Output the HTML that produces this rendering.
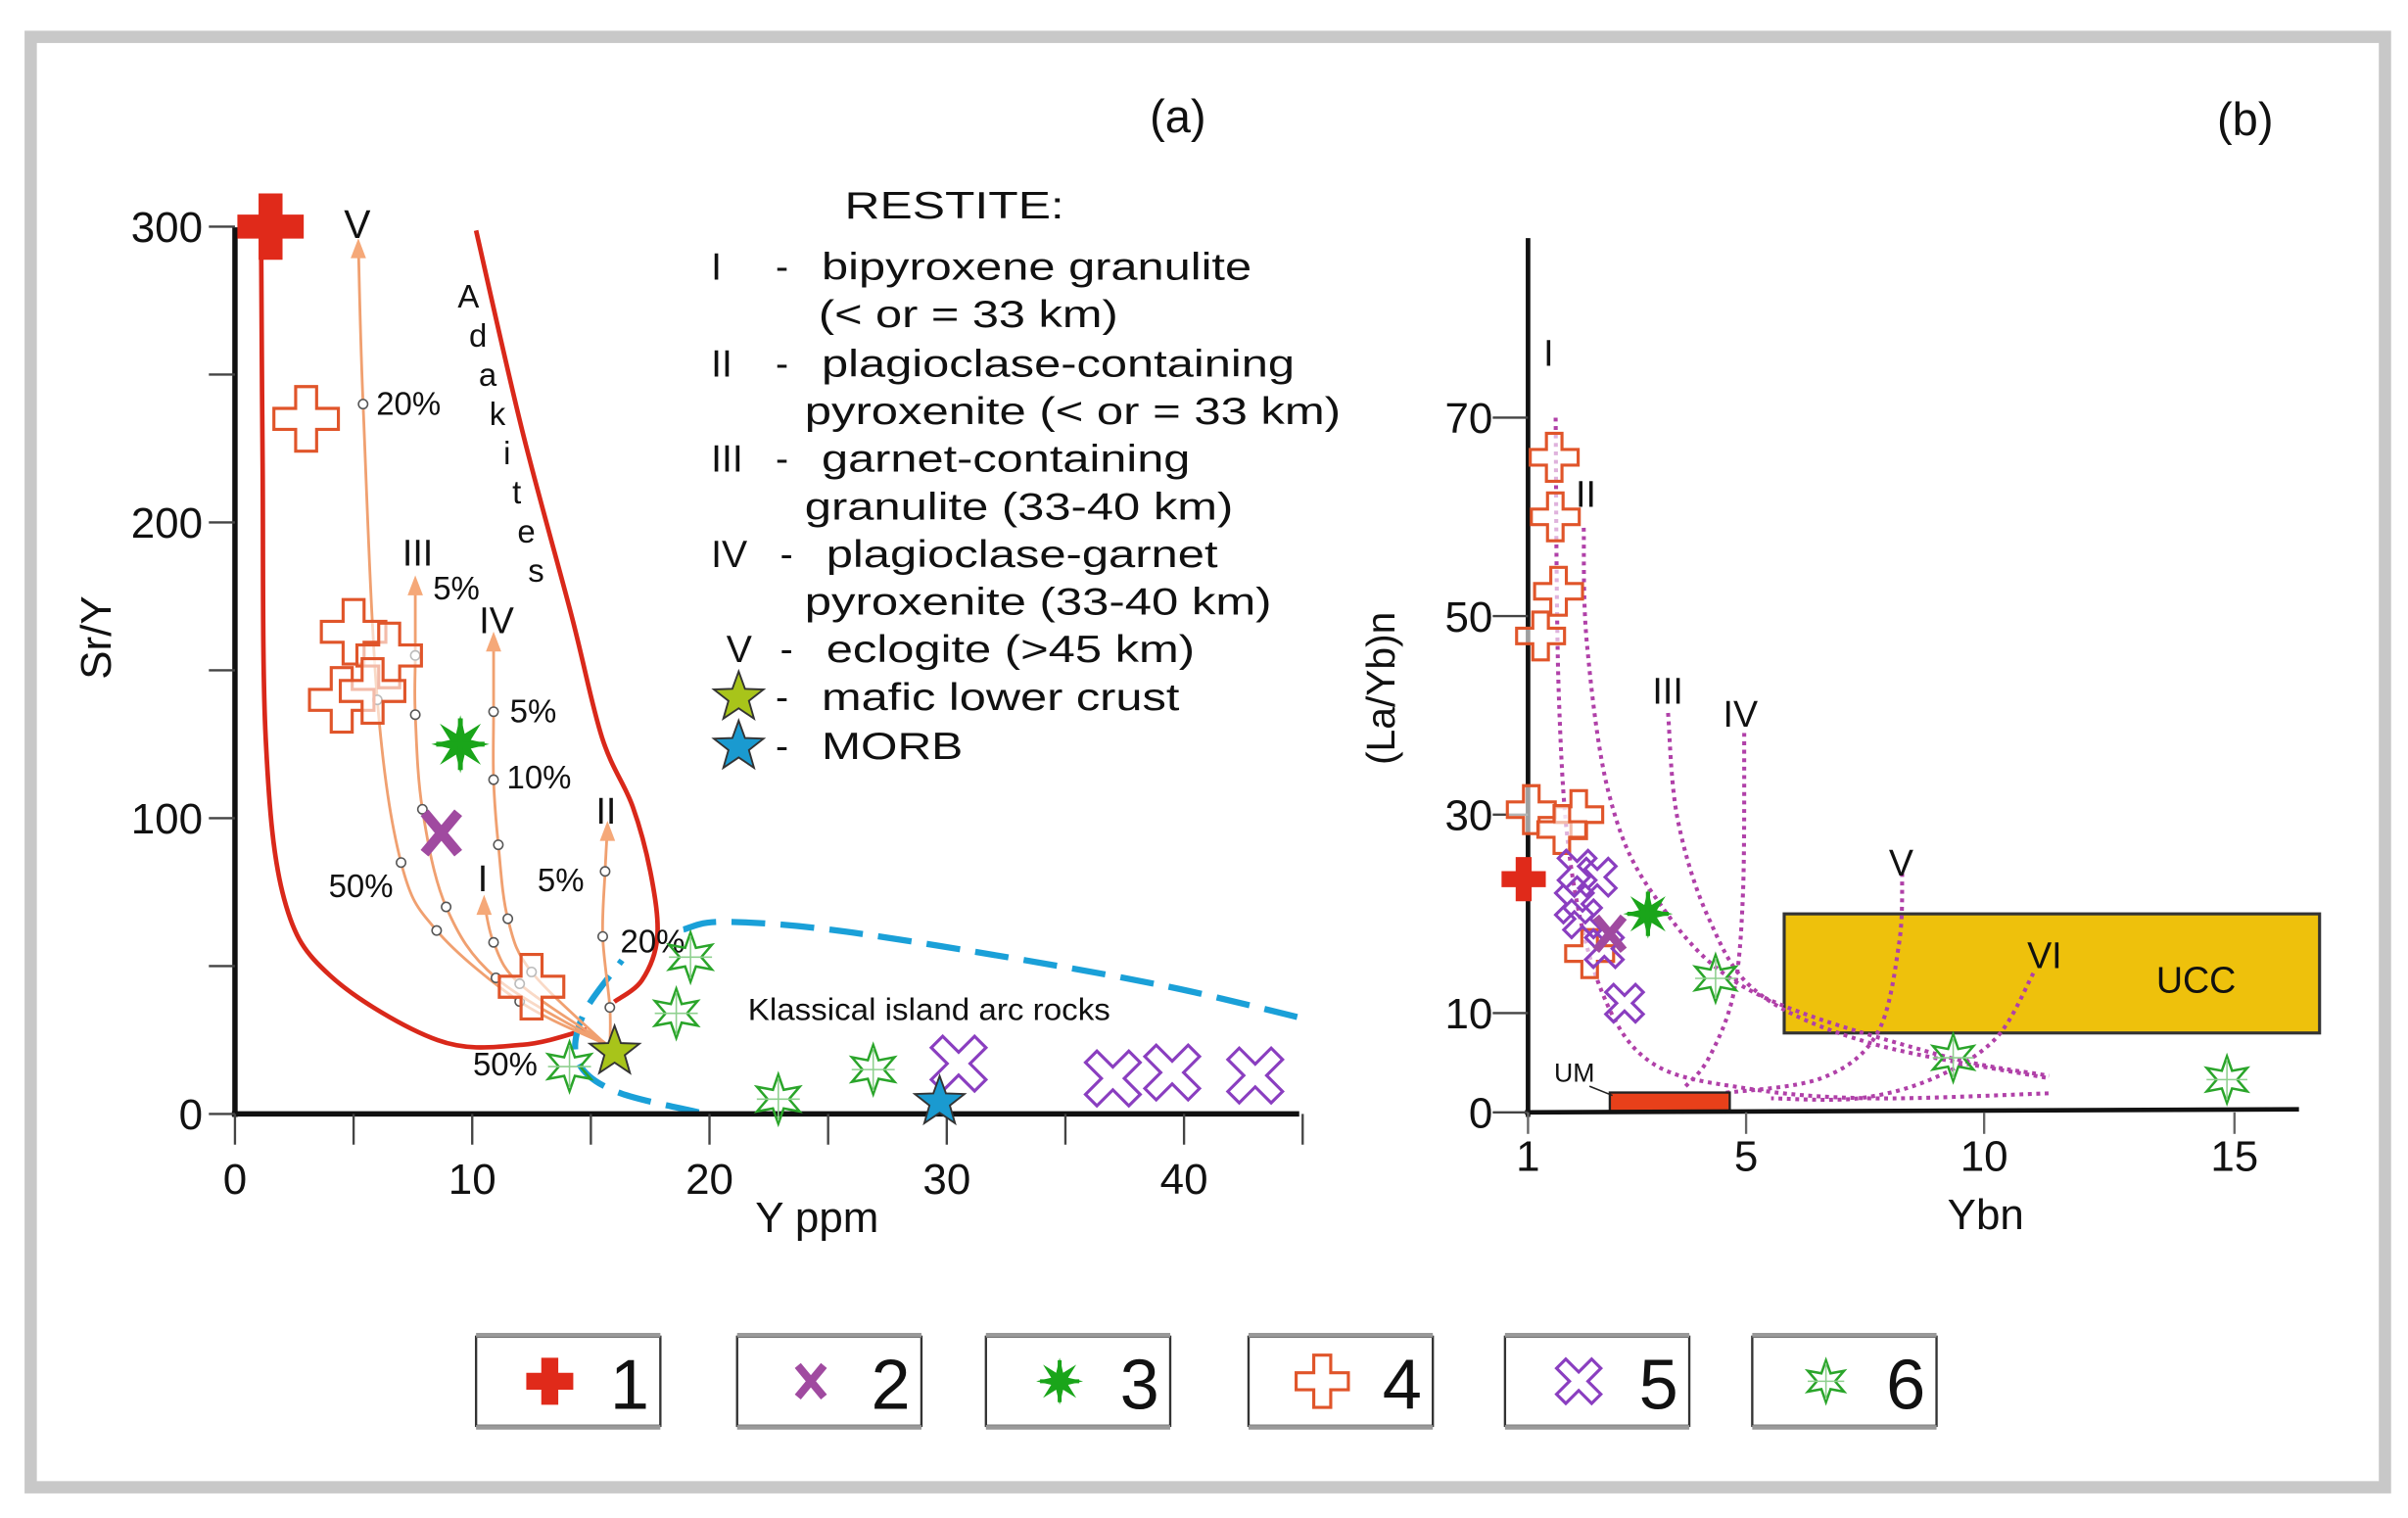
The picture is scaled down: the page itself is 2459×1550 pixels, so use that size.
<!DOCTYPE html>
<html><head><meta charset="utf-8">
<style>
html,body{margin:0;padding:0;background:#fff;}
svg{display:block;}
text{font-family:"Liberation Sans",Arial,sans-serif;fill:#111;}
</style></head>
<body>
<svg id="fig" width="2459" height="1550" viewBox="0 0 1568 988" preserveAspectRatio="none" xmlns="http://www.w3.org/2000/svg">
<rect x="0" y="0" width="1568" height="988" fill="#fff"/>
<rect x="20" y="24" width="1533" height="944" fill="none" stroke="#c8c8c8" stroke-width="8"/>
<g id="pa"></g>
<g id="pb"></g>
<g id="leg"></g>
</svg>
<script>
// ---------- Panel (a) data: Sr/Y vs Y ppm ----------
const aXTicks = [0,10,20,30,40];
const aYTicks = [0,100,200,300];
const aType1 = [[1.5,300]];
const aType2 = [[8.7,95]];
const aType3 = [[9.5,125]];
const aType4 = [[3,235],[5,163],[6.5,155],[4.5,140],[5.8,143],[12.5,43]];
const aType5 = [[30.5,17],[37,12],[39.5,14],[43,13]];
const aType6 = [[19.2,53],[18.6,34],[14.1,16],[22.9,5],[26.9,15]];
const aMafic = [[16,21]];
const aMorb = [[29.7,4]];
const curveV = [[15.5,24],[12,38],[8.5,62],[7,85],[6,140],[5.4,240],[5.2,294]];
const curveIII = [[15.5,24],[11,46],[8.9,70],[7.9,103],[7.6,135],[7.6,155],[7.6,180]];
const curveIV = [[15.7,23],[12.5,48],[11.5,66],[11.1,91],[10.9,113],[10.9,136],[10.9,161]];
const curveI = [[15.6,24],[12,44],[10.9,58],[10.5,72]];
const curveII = [[15.8,22],[15.8,36],[15.5,60],[15.6,82],[15.7,97]];

// ---------- Panel (b) data: (La/Yb)n vs Ybn ----------
const bXTicks = [1,5,10,15];
const bYTicks = [0,10,30,50,70];
const bType1 = [[0.92,23.5]];
const bType2 = [[2.5,18]];
const bType3 = [[3.2,20]];
const bType4 = [[1.48,66],[1.5,60],[1.56,52.5],[1.23,48],[1.06,30.5],[1.93,30],[1.62,28.5],[2.13,16]];
const bType5 = [[1.9,24.5],[2.27,23.7],[1.85,21],[2.0,19.5],[2.4,16.5],[2.77,11]];
const bType6 = [[4.44,13.5],[9.35,5.5],[14.85,3.3]];
const bUCC = [5.8,16.7,8,20];   // xmin,xmax,ymin,ymax
const bUM = [2.5,4.7,0,2];

const NS="http://www.w3.org/2000/svg";
function el(tag,attrs,parent){const e=document.createElementNS(NS,tag);for(const k in attrs)e.setAttribute(k,attrs[k]);parent.appendChild(e);return e;}
function txt(s,x,y,size,parent,extra){const t=el('text',Object.assign({x:x,y:y,'font-size':size},extra||{}),parent);t.textContent=s;return t;}

// axis functions
const ax=v=>153+v*15.45, ay=v=>725-v*1.925;
function bx(v){ if(v<=5) return 995+(v-1)*35.5; if(v<=10) return 1137+(v-5)*31; return 1292+(v-10)*32.6; }
const by=v=>724-v*6.46;

// symbols
function crossPts(cx,cy,L,w){return [[-w,-L],[w,-L],[w,-w],[L,-w],[L,w],[w,w],[w,L],[-w,L],[-w,w],[-L,w],[-L,-w],[-w,-w]].map(p=>(cx+p[0])+','+(cy+p[1])).join(' ');}
function xPts(cx,cy,L,w){return [[-w,-L],[w,-L],[w,-w],[L,-w],[L,w],[w,w],[w,L],[-w,L],[-w,w],[-L,w],[-L,-w],[-w,-w]].map(p=>{const a=Math.PI/4;const x=p[0]*Math.cos(a)-p[1]*Math.sin(a),y=p[0]*Math.sin(a)+p[1]*Math.cos(a);return (cx+x)+','+(cy+y);}).join(' ');}
function starPts(cx,cy,R,r,n){let s=[];for(let i=0;i<2*n;i++){const a=-Math.PI/2+i*Math.PI/n;const rr=i%2?r:R;s.push((cx+rr*Math.cos(a))+','+(cy+rr*Math.sin(a)));}return s.join(' ');}
function sym(type,cx,cy,sc,parent){
  let e;
  if(type===1){e=el('polygon',{points:crossPts(cx,cy,18*sc,6.5*sc),fill:'#e02a1a'},parent);}
  else if(type===2){e=el('g',{},parent);el('path',{d:`M${cx-10*sc},${cy-12*sc}L${cx+10*sc},${cy+12*sc}M${cx+10*sc},${cy-12*sc}L${cx-10*sc},${cy+12*sc}`,stroke:'#a04aa0','stroke-width':6*sc},e);}
  else if(type===3){e=el('g',{},parent);el('polygon',{points:starPts(cx,cy,18*sc,7*sc,8),fill:'#1aa51a'},e);el('path',{d:`M${cx-15*sc},${cy}L${cx+15*sc},${cy}M${cx},${cy-16*sc}L${cx},${cy+16*sc}`,stroke:'#1aa51a','stroke-width':3*sc},e);}
  else if(type===4){e=el('polygon',{points:crossPts(cx,cy,20*sc,6.5*sc),fill:'#fff','fill-opacity':0.6,stroke:'#e0552a','stroke-width':2},parent);}
  else if(type===5){e=el('polygon',{points:xPts(cx,cy,19*sc,5*sc),fill:'none',stroke:'#8a3ec0','stroke-width':2},parent);}
  else if(type===6){e=el('g',{},parent);el('polygon',{points:starPts(cx,cy,16*sc,7*sc,6),fill:'none',stroke:'#2aa52a','stroke-width':1.6},e);el('path',{d:`M${cx-14*sc},${cy}L${cx+14*sc},${cy}M${cx},${cy-14*sc}L${cx},${cy+14*sc}`,stroke:'#8fd08f','stroke-width':1},e);}
  else if(type==='mafic'){e=el('polygon',{points:starPts(cx,cy,17,7,5),fill:'#a8c41a',stroke:'#333','stroke-width':1.2},parent);}
  else if(type==='morb'){e=el('polygon',{points:starPts(cx,cy,17,7,5),fill:'#1a9ad0',stroke:'#333','stroke-width':1.2},parent);}
  return e;
}
function smooth(pts){let d='M'+pts[0][0]+','+pts[0][1];for(let i=1;i<pts.length;i++){const p0=pts[Math.max(0,i-2)],p1=pts[i-1],p2=pts[i],p3=pts[Math.min(pts.length-1,i+1)];const c1=[p1[0]+(p2[0]-p0[0])/6,p1[1]+(p2[1]-p0[1])/6],c2=[p2[0]-(p3[0]-p1[0])/6,p2[1]-(p3[1]-p1[1])/6];d+=`C${c1[0]},${c1[1]} ${c2[0]},${c2[1]} ${p2[0]},${p2[1]}`;}return d;}

// ================= PANEL A =================
const pa=document.getElementById('pa');
const adak=el('path',{d:smooth([[310,150],[340,280],[372,400],[392,480],[412,525],[424,570],[428,610],[418,638],[400,652]])+' '+smooth([[170,150],[171,300],[173,480],[185,585],[215,635],[285,677],[340,680],[382,670]]),fill:'none',stroke:'#d9281a','stroke-width':3},pa);


const arc=el('path',{d:smooth([[455,724],[400,710],[376,690],[380,660],[405,625]])+' '+smooth([[445,605],[470,600],[540,605],[650,622],[760,642],[845,662]]),fill:'none',stroke:'#1aa0d8','stroke-width':4,'stroke-dasharray':'22 10'},pa);


el('line',{x1:153,y1:148,x2:153,y2:727,stroke:'#111','stroke-width':3.5},pa);
el('line',{x1:151,y1:725,x2:846,y2:725,stroke:'#111','stroke-width':3.5},pa);
for(let v=0;v<=45;v+=5){el('line',{x1:ax(v),y1:725,x2:ax(v),y2:745,stroke:'#444','stroke-width':1.5},pa);}
for(let v=0;v<=300;v+=50){el('line',{x1:136,y1:ay(v),x2:153,y2:ay(v),stroke:'#444','stroke-width':1.5},pa);}
aXTicks.forEach(v=>{const t=txt(String(v),ax(v),777,28,pa,{'text-anchor':'middle'});});
aYTicks.forEach(v=>{const t=txt(String(v),132,ay(v)+10,28,pa,{'text-anchor':'end'});});
const ya=txt('Sr/Y',72,415,28,pa,{'text-anchor':'middle',transform:'rotate(-90 72 415)'});
const xa=txt('Y ppm',532,802,28,pa,{'text-anchor':'middle'});
const la=txt('(a)',767,86,30,pa,{'text-anchor':'middle'});
[[curveV,'V'],[curveIII,'III'],[curveIV,'IV'],[curveI,'I'],[curveII,'II']].forEach(([c,n])=>{
  const pts=c.map(p=>[ax(p[0]),ay(p[1])]);
  const g=el('g',{},pa);
  
  
  el('path',{d:smooth(pts),fill:'none',stroke:'#f0a070','stroke-width':1.8},g);
  const e=pts[pts.length-1];
  el('polygon',{points:`${e[0]},${e[1]-4} ${e[0]-5},${e[1]+9} ${e[0]+5},${e[1]+9}`,fill:'#f5a878'},g);
  pts.slice(1,-1).forEach(p=>el('circle',{cx:p[0],cy:p[1],r:3,fill:'#fff',stroke:'#555','stroke-width':1},g));
});
[['V',224,155,26],['20%',245,270,21],['III',262,368,24],['5%',282,390,21],['IV',312,412,24],['5%',332,470,21],['10%',330,513,21],['II',388,536,24],['5%',350,580,21],['I',311,580,24],['50%',214,584,21],['20%',404,620,21],['50%',308,700,21]].forEach(([s,x,y,f])=>{const t=txt(s,x,y,f,pa);});
'Adakites'.split('').forEach((c,i)=>{const t=txt(c,305+i*6.3,200+i*25.5,21,pa,{'text-anchor':'middle'});});
const isl=txt('Klassical island arc rocks',487,664,20,pa,{textLength:236,lengthAdjust:'spacingAndGlyphs'});
const rl=el('g',{},pa);
[['RESTITE:',550,142,693],['I',463,182,0],['-',505,182,0],['bipyroxene granulite',535,182,815],['(< or = 33 km)',533,213,728],
 ['II',463,245,0],['-',505,245,0],['plagioclase-containing',535,245,843],['pyroxenite (< or = 33 km)',524,276,873],
 ['III',463,307,0],['-',505,307,0],['garnet-containing',535,307,775],['granulite (33-40 km)',524,338,803],
 ['IV',463,369,0],['-',508,369,0],['plagioclase-garnet',538,369,793],['pyroxenite (33-40 km)',524,400,828],
 ['V',473,431,0],['-',508,431,0],['eclogite (>45 km)',538,431,778],
 ['-',505,462,0],['mafic lower crust',535,462,768],['-',505,494,0],['MORB',535,494,627]].forEach(([s,x,y,e])=>{const o={};if(e){o.textLength=e-x;o.lengthAdjust='spacingAndGlyphs';}txt(s,x,y,25,rl,o);});
sym('mafic',481,454,1,rl);sym('morb',481,486,1,rl);
const plotA=(arr,type,sc,name)=>arr.forEach(p=>{const s=sym(type,ax(p[0]),ay(p[1]),sc,pa);});
plotA(aType4,4,1.05,'a-point-type4');
plotA(aType1,1,1.2,'a-point-type1');
plotA(aType2,2,1.1,'a-point-type2');
plotA(aType3,3,1.05,'a-point-type3');
plotA(aType5,5,1.05,'a-point-type5');
plotA(aType6,6,1,'a-point-type6');
plotA(aMafic,'mafic',1,'a-point-mafic-lower-crust');
plotA(aMorb,'morb',1,'a-point-morb');

// ================= PANEL B =================
const pb=document.getElementById('pb');
const zc=(x,y)=>[893+x/2.459,223+y/3.07];
const bCurves=[
 [[295,150],[300,700],[320,1050],[370,1300],[450,1440],[600,1490],[800,1510],[1085,1500]],
 [[340,370],[345,600],[380,900],[450,1100],[600,1290],[900,1420],[1085,1465]],
 [[475,740],[490,950],[540,1150],[620,1300],[800,1400],[1085,1470]],
 [[597,780],[595,1100],[580,1300],[540,1430],[500,1490]],
 [[850,1060],[845,1200],[810,1380],[720,1470],[560,1500]],
 [[1060,1260],[1000,1390],[900,1470],[780,1510],[640,1510]]];
const uc=el('g',{},pb);
el('rect',{x:bx(bUCC[0]),y:by(bUCC[3]),width:bx(bUCC[1])-bx(bUCC[0]),height:by(bUCC[2])-by(bUCC[3]),fill:'#eec10c',stroke:'#333','stroke-width':2},uc);
txt('UCC',1430,646,24,uc,{'text-anchor':'middle'});
bCurves.forEach((c,i)=>{const p=el('path',{d:smooth(c.map(q=>zc(q[0],q[1]))),fill:'none',stroke:'#b040a8','stroke-width':2.6,'stroke-dasharray':'2.5 3'},pb);});
const um=el('g',{},pb);
el('rect',{x:bx(bUM[0]),y:by(bUM[3]),width:bx(bUM[1])-bx(bUM[0]),height:by(bUM[2])-by(bUM[3]),fill:'#e8401a',stroke:'#222','stroke-width':1.5},um);
txt('UM',1012,704,17,um);el('line',{x1:1035,y1:707,x2:1050,y2:713,stroke:'#222','stroke-width':1},um);
el('line',{x1:995,y1:155,x2:995,y2:727,stroke:'#111','stroke-width':3},pb);
el('line',{x1:993,y1:724,x2:1497,y2:722,stroke:'#111','stroke-width':3},pb);
bYTicks.forEach(v=>{el('line',{x1:972,y1:by(v),x2:995,y2:by(v),stroke:'#444','stroke-width':1.5},pb);const t=txt(String(v),972,by(v)+10,28,pb,{'text-anchor':'end'});});
bXTicks.forEach(v=>{el('line',{x1:bx(v),y1:724,x2:bx(v),y2:738,stroke:'#666','stroke-width':1.5},pb);const t=txt(String(v),bx(v),762,28,pb,{'text-anchor':'middle'});});
const yb=txt('(La/Yb)n',908,448,26,pb,{'text-anchor':'middle',transform:'rotate(-90 908 448)'});
const xb=txt('Ybn',1293,800,28,pb,{'text-anchor':'middle'});
const lb=txt('(b)',1462,88,30,pb,{'text-anchor':'middle'});
[['I',1005,238],['II',1026,330],['III',1076,458],['IV',1122,473],['V',1230,570],['VI',1320,630]].forEach(([s,x,y])=>{const t=txt(s,x,y,24,pb);});
const plotB=(arr,type,sc,name)=>arr.forEach(p=>{const s=sym(type,bx(p[0]),by(p[1]),sc,pb);});
plotB(bType4,4,0.78,'b-point-type4');
plotB(bType1,1,0.8,'b-point-type1');
plotB(bType5,5,0.72,'b-point-type5');
plotB(bType2,2,0.9,'b-point-type2');
plotB(bType3,3,0.9,'b-point-type3');
plotB(bType6,6,0.95,'b-point-type6');

// ================= LEGEND =================
const leg=document.getElementById('leg');
const legX=[310,480,642,813,980,1141];
legX.forEach((x,i)=>{
  const g=el('g',{},leg);
  
  
  el('rect',{x:x,y:870,width:120,height:58,fill:'#fff',stroke:'#333','stroke-width':1.5},g);
  el('line',{x1:x,y1:869,x2:x+120,y2:869,stroke:'#999','stroke-width':3},g);
  el('line',{x1:x,y1:929,x2:x+120,y2:929,stroke:'#999','stroke-width':3},g);
  sym(i+1,x+48,899,0.85,g);
  txt(String(i+1),x+100,917,46,g,{'text-anchor':'middle'});
});
</script>
</body></html>
